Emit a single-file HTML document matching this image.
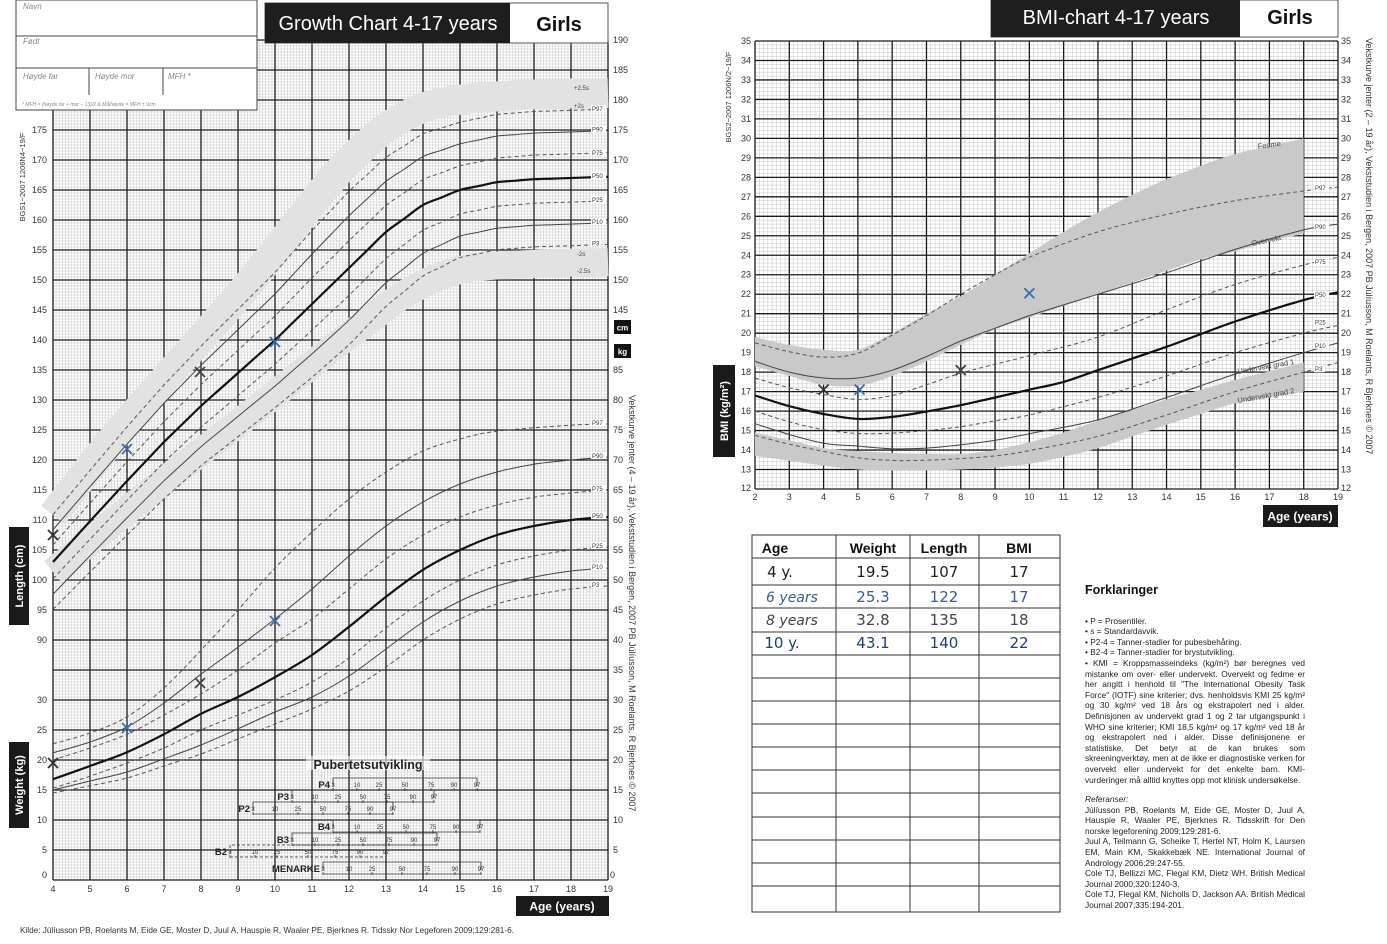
<!DOCTYPE html>
<html><head><meta charset="utf-8">
<style>
html,body{margin:0;padding:0;background:#fff;}
body{width:1387px;height:944px;position:relative;overflow:hidden;font-family:"Liberation Sans",Arial,sans-serif;}
svg{position:absolute;left:0;top:0;}
.hw{font-family:"DejaVu Sans","Liberation Sans",sans-serif;}
#fork{position:absolute;left:1085px;top:585px;width:220px;font-size:8.3px;line-height:10.6px;color:#222;text-align:justify;}
#fork h3{margin:0 0 20px 0;font-size:12.5px;font-weight:bold;color:#111;}
#fork p{margin:0;}
</style></head><body>
<svg id="s" width="1387" height="944" viewBox="0 0 1387 944" xmlns="http://www.w3.org/2000/svg">
<g id="grid"></g>
<g id="curves"></g>
<rect x="16" y="0" width="241" height="110" fill="#fff" stroke="#444" stroke-width="1"/>
<line x1="16" y1="36" x2="257" y2="36" stroke="#444"/>
<line x1="16" y1="68" x2="257" y2="68" stroke="#444"/>
<line x1="89" y1="68" x2="89" y2="95" stroke="#444"/>
<line x1="163" y1="68" x2="163" y2="95" stroke="#444"/>
<g font-size="8" font-style="italic" fill="#888">
<text x="23" y="9">Navn</text><text x="23" y="44">Født</text>
<text x="23" y="79">Høyde far</text><text x="95" y="79">Høyde mor</text><text x="168" y="79">MFH *</text>
<text x="22" y="106" font-size="5">* MFH = (høyde far + mor − 13)/2 &amp; Målhøyde = MFH ± 9cm</text>
</g>
<rect x="265" y="3" width="343" height="40" fill="#fff" stroke="#555"/>
<rect x="265" y="3" width="245" height="40" fill="#1e1e1e"/>
<text x="388" y="30" font-size="20" fill="#fff" text-anchor="middle">Growth Chart 4-17 years</text>
<text x="559" y="31" font-size="20" font-weight="bold" fill="#111" text-anchor="middle">Girls</text>
<rect x="991" y="0" width="347" height="37" fill="#fff" stroke="#555"/>
<rect x="991" y="0" width="249" height="37" fill="#1e1e1e"/>
<text x="1116" y="24" font-size="20" fill="#fff" text-anchor="middle">BMI-chart 4-17 years</text>
<text x="1290" y="24" font-size="20" font-weight="bold" fill="#111" text-anchor="middle">Girls</text>
<rect x="9" y="527" width="20" height="98" fill="#1a1a1a"/>
<text transform="translate(23,576) rotate(-90)" font-size="11" font-weight="bold" fill="#fff" text-anchor="middle">Length (cm)</text>
<rect x="9" y="742" width="20" height="86" fill="#1a1a1a"/>
<text transform="translate(23,785) rotate(-90)" font-size="11" font-weight="bold" fill="#fff" text-anchor="middle">Weight (kg)</text>
<rect x="713" y="365" width="22" height="92" fill="#1a1a1a"/>
<text transform="translate(728,411) rotate(-90)" font-size="11" font-weight="bold" fill="#fff" text-anchor="middle">BMI (kg/m²)</text>
<rect x="614" y="320" width="17" height="14" fill="#111"/><text x="622.5" y="330.5" font-size="8" font-weight="bold" fill="#fff" text-anchor="middle">cm</text>
<rect x="614" y="344" width="17" height="14" fill="#111"/><text x="622.5" y="354.5" font-size="8" font-weight="bold" fill="#fff" text-anchor="middle">kg</text>
<rect x="516" y="896" width="93" height="20" fill="#1a1a1a"/>
<text x="562" y="910.5" font-size="12" font-weight="bold" fill="#fff" text-anchor="middle">Age  (years)</text>
<rect x="1263" y="505" width="75" height="22" fill="#1a1a1a"/>
<text x="1300" y="520.5" font-size="12" font-weight="bold" fill="#fff" text-anchor="middle">Age  (years)</text>
<text transform="translate(25,177) rotate(-90)" font-size="7.5" fill="#333" text-anchor="middle">BGS1−2007 1206N4−19/F</text>
<text transform="translate(731,97) rotate(-90)" font-size="7.5" fill="#333" text-anchor="middle">BGS2−2007 1206N/2−19/F</text>
<text transform="translate(629,395) rotate(90)" font-size="9" fill="#333">Vekstkurve jenter (4 – 19 år), Vekststudien i Bergen, 2007      PB Júlíusson, M Roelants, R Bjerknes © 2007</text>
<text transform="translate(1366,38) rotate(90)" font-size="9" fill="#333">Vekstkurve jenter (2 – 19 år), Vekststudien i Bergen, 2007      PB Júlíusson, M Roelants, R Bjerknes © 2007</text>
<text x="20" y="933" font-size="8.2" fill="#333">Kilde: Júlíusson PB, Roelants M, Eide GE, Moster D, Juul A, Hauspie R, Waaler PE, Bjerknes R. Tidsskr Nor Legeforen 2009;129:281-6.</text>
<g id="labels" font-size="9" fill="#333"></g>
<g id="pub"></g>
<g stroke="#333" stroke-width="1" fill="none" id="tbl"></g>
<g font-size="14" font-weight="bold" fill="#111" text-anchor="middle">
<text x="775" y="553">Age</text><text x="873" y="553">Weight</text><text x="944" y="553">Length</text><text x="1019" y="553">BMI</text>
</g>
<g class="hw" font-size="15" text-anchor="middle">
<text x="780" y="577" fill="#222">4 y.</text><text x="873" y="577" fill="#222">19.5</text><text x="944" y="577" fill="#222">107</text><text x="1019" y="577" fill="#222">17</text>
<text x="792" y="602" fill="#3a5d8f" font-size="14" font-style="italic">6 years</text><text x="873" y="602" fill="#3a5d8f">25.3</text><text x="944" y="602" fill="#3a5d8f">122</text><text x="1019" y="602" fill="#3a5d8f">17</text>
<text x="792" y="625" fill="#444" font-size="14" font-style="italic">8 years</text><text x="873" y="625" fill="#444">32.8</text><text x="944" y="625" fill="#444">135</text><text x="1019" y="625" fill="#444">18</text>
<text x="782" y="648" fill="#1f3f7a">10 y.</text><text x="873" y="648" fill="#1f3f7a">43.1</text><text x="944" y="648" fill="#1f3f7a">140</text><text x="1019" y="648" fill="#1f3f7a">22</text>
</g>
</svg>
<div id="fork">
<h3>Forklaringer</h3>
<p>• P = Prosentiler.</p>
<p>• <i>s</i> = Standardavvik.</p>
<p>• P2-4 = Tanner-stadier for pubesbehåring.</p>
<p>• B2-4 = Tanner-stadier for brystutvikling.</p>
<p>• KMI = Kroppsmasseindeks (kg/m²) bør beregnes ved mistanke om over- eller undervekt. Overvekt og fedme er her angitt i henhold til "The International Obesity Task Force" (IOTF) sine kriterier; dvs. henholdsvis KMI 25 kg/m² og 30 kg/m² ved 18 års og ekstrapolert ned i alder. Definisjonen av undervekt grad 1 og 2 tar utgangspunkt i WHO sine kriterier; KMI 18,5 kg/m² og 17 kg/m² ved 18 år og ekstrapolert ned i alder. Disse definisjonene er statistiske. Det betyr at de kan brukes som skreeningverktøy, men at de ikke er diagnostiske verken for overvekt eller undervekt for det enkelte barn. KMI-vurderinger må alltid knyttes opp mot klinisk undersøkelse.</p>
<p style="margin-top:9px"><i>Referanser:</i></p>
<p>Júlíusson PB, Roelants M, Eide GE, Moster D, Juul A, Hauspie R, Waaler PE, Bjerknes R. Tidsskrift for Den norske legeforening 2009;129:281-6.</p>
<p>Juul A, Teilmann G, Scheike T, Hertel NT, Holm K, Laursen EM, Main KM, Skakkebæk NE. International Journal of Andrology 2006;29:247-55.</p>
<p>Cole TJ, Bellizzi MC, Flegal KM, Dietz WH. British Medical Journal 2000;320:1240-3.</p>
<p>Cole TJ, Flegal KM, Nicholls D, Jackson AA. British Medical Journal 2007;335:194-201.</p>
</div>
<script>
(function(){
function add(g,html){document.getElementById(g).insertAdjacentHTML('beforeend',html);}
var G='';
var lx0=53,lx1=608,ly0=40,ly1=880;
for(var k=0;k<=180;k++){var x=(lx0+k*37/12).toFixed(2);G+='<line x1="'+x+'" y1="'+ly0+'" x2="'+x+'" y2="'+ly1+'" stroke="#c4c4c4" stroke-width="0.5"/>';}
for(var j=0;j<=280;j++){var y=ly0+j*3;G+='<line x1="'+lx0+'" y1="'+y+'" x2="'+lx1+'" y2="'+y+'" stroke="#c4c4c4" stroke-width="0.5"/>';}
for(var a=4;a<=19;a++){var x=lx0+(a-4)*37;G+='<line x1="'+x+'" y1="'+ly0+'" x2="'+x+'" y2="'+ly1+'" stroke="#1a1a1a" stroke-width="1.3"/>';}
for(var y=ly0;y<=ly1;y+=30){G+='<line x1="'+lx0+'" y1="'+y+'" x2="'+lx1+'" y2="'+y+'" stroke="#1a1a1a" stroke-width="1.3"/>';}
var rx0=755,rx1=1338,ry0=41,ry1=489,ux=(rx1-rx0)/17,uy=(ry1-ry0)/23;
for(var k=0;k<=136;k++){var x=(rx0+k*ux/8).toFixed(2);G+='<line x1="'+x+'" y1="'+ry0+'" x2="'+x+'" y2="'+ry1+'" stroke="#c4c4c4" stroke-width="0.5"/>';}
for(var j=0;j<=115;j++){var y=(ry0+j*uy/5).toFixed(2);G+='<line x1="'+rx0+'" y1="'+y+'" x2="'+rx1+'" y2="'+y+'" stroke="#c4c4c4" stroke-width="0.5"/>';}
for(var a=0;a<=17;a++){var x=(rx0+a*ux).toFixed(2);G+='<line x1="'+x+'" y1="'+ry0+'" x2="'+x+'" y2="'+ry1+'" stroke="#1a1a1a" stroke-width="1.3"/>';}
for(var j=0;j<=23;j++){var y=(ry0+j*uy).toFixed(2);G+='<line x1="'+rx0+'" y1="'+y+'" x2="'+rx1+'" y2="'+y+'" stroke="#1a1a1a" stroke-width="1.3"/>';}
add('grid',G);
function cr(pts){var d='M'+pts[0][0].toFixed(1)+','+pts[0][1].toFixed(1);
 for(var i=0;i<pts.length-1;i++){var p0=pts[i-1]||pts[i],p1=pts[i],p2=pts[i+1],p3=pts[i+2]||p2;
 d+=' C'+(p1[0]+(p2[0]-p0[0])/6).toFixed(1)+','+(p1[1]+(p2[1]-p0[1])/6).toFixed(1)+' '+(p2[0]-(p3[0]-p1[0])/6).toFixed(1)+','+(p2[1]-(p3[1]-p1[1])/6).toFixed(1)+' '+p2[0].toFixed(1)+','+p2[1].toFixed(1);}
 return d;}
function interp(tab,a){for(var i=0;i<tab.length-1;i++){if(a<=tab[i+1][0]){var t=(a-tab[i][0])/(tab[i+1][0]-tab[i][0]);return tab[i][1]+t*(tab[i+1][1]-tab[i][1]);}}return tab[tab.length-1][1];}
var LX=function(a){return 53+(a-4)*37;},HY=function(h){return 40+(190-h)*6;},WY=function(w){return 880-6*w;};
var C='';
function st(kind){if(kind==='h')return 'stroke="#111" stroke-width="2.2"';if(kind==='s')return 'stroke="#444" stroke-width="1"';return 'stroke="#555" stroke-width="1" stroke-dasharray="4,3"';}
var up=[[53,515],[122,428],[245,288],[318,196],[355,155],[395,122],[440,103],[520,95],[608,93]];
var lo=[[53,572],[150,492],[245,418],[330,350],[367,322],[408,292],[460,270],[530,264],[608,262]];
C+='<path d="'+cr(up)+'" fill="none" stroke="#e2e2e2" stroke-width="30"/>';
C+='<path d="'+cr(lo)+'" fill="none" stroke="#e2e2e2" stroke-width="28"/>';
var P50=[[4,103],[5,109.8],[6,116.5],[7,123],[8,129],[9,134.5],[10,140],[11,146],[12,152],[13,158],[14,162.5],[15,165],[16,166.3],[17,166.8],[18,167],[19,167.2]];
var SD=[[4,4.2],[6,4.8],[8,5.3],[10,6],[11,6.5],[12,6.8],[13,6.6],[14,6.3],[15,6],[19,6]];
var Z=[[1.88,'d'],[1.28,'s'],[0.67,'d'],[0,'h'],[-0.67,'d'],[-1.28,'s'],[-1.88,'d']];
Z.forEach(function(z){var pts=[];for(var a=4;a<=19.001;a+=0.5){pts.push([LX(a),HY(interp(P50,a)+z[0]*interp(SD,a))]);}
 C+='<path d="'+cr(pts)+'" fill="none" '+st(z[1])+'/>';});
var W={
p97:[[4,22.7],[5,24.5],[6,27.2],[7,32],[8,38.3],[9,45],[10,52],[11,58],[12,63.5],[13,68],[14,71.5],[15,73.5],[16,74.8],[18,75.8],[19,76]],
p90:[[4,21.2],[5,23],[6,25.5],[7,29.5],[8,34.3],[9,38.8],[10,43.5],[11,48.5],[12,54],[13,59],[14,63],[15,66],[16,68],[17,69.3],[18,70],[19,70.5]],
p75:[[4,20],[5,22],[6,24.3],[7,27.5],[8,31],[9,35],[10,39.5],[11,43.5],[12,48.5],[13,53.5],[14,57.5],[15,60.5],[16,62.5],[17,63.8],[18,64.5],[19,65]],
p50:[[4,16.8],[5,19],[6,21.3],[7,24.3],[8,27.7],[9,30.5],[10,33.8],[11,37.5],[12,42.2],[13,47.2],[14,51.7],[15,55],[16,57.5],[17,59],[18,60],[19,60.5]],
p25:[[4,15.3],[5,17.3],[6,19.5],[7,22],[8,25],[9,27.5],[10,30],[11,33],[12,37],[13,42],[14,46.5],[15,50],[16,52.5],[17,54],[18,55],[19,55.5]],
p10:[[4,15],[5,16.5],[6,18],[7,20.2],[8,22.5],[9,25.2],[10,28],[11,30.5],[12,34],[13,38.5],[14,43],[15,46.5],[16,49],[17,50.5],[18,51.5],[19,52]],
p3:[[4,14.5],[5,15.7],[6,17],[7,19],[8,21],[9,23.5],[10,26],[11,28.5],[12,31.5],[13,35.5],[14,40],[15,43.5],[16,46],[17,47.5],[18,48.5],[19,49]]};
var ks={p97:'d',p90:'s',p75:'d',p50:'h',p25:'d',p10:'s',p3:'d'};
for(var k in W){var pts=W[k].map(function(p){return [LX(p[0]),WY(p[1])];});C+='<path d="'+cr(pts)+'" fill="none" '+st(ks[k])+'/>';}
var BX=function(a){return 755+(a-2)*ux;},BY=function(b){return 41+(35-b)*uy;};
var bandTop=[[2,19.8],[3,19.4],[4,19.15],[5,19.15],[6,20],[7,21],[8,21.9],[9,23],[10,24.1],[11,25.2],[12,26.2],[13,27.1],[14,27.9],[15,28.6],[16,29.2],[17,29.6],[18,30]];
var bandBot=[[2,18.3],[3,17.8],[4,17.35],[5,17.3],[6,17.8],[7,18.55],[8,19.4],[9,20.2],[10,20.8],[11,21.4],[12,22],[13,22.6],[14,23.2],[15,23.8],[16,24.2],[17,24.7],[18,25.1]];
var lbTop=[[2,14.9],[3,14.5],[4,14.1],[5,13.95],[6,13.85],[7,13.8],[8,13.8],[9,14],[10,14.4],[11,14.9],[12,15.5],[13,16.05],[14,16.6],[15,17.1],[16,17.6],[17,18.05],[18,18.5]];
var lbBot=[[2,13.7],[3,13.45],[4,13.2],[5,13.0],[6,12.95],[7,12.95],[8,13.0],[9,13.1],[10,13.3],[11,13.65],[12,14.1],[13,14.7],[14,15.3],[15,15.85],[16,16.4],[17,16.7],[18,17]];
function band(t,b){var pt=t.map(function(p){return [BX(p[0]),BY(p[1])];});var pb=b.slice().reverse().map(function(p){return [BX(p[0]),BY(p[1])];});
 var d=cr(pt);var d2=cr(pb).replace(/^M/,' L');return '<path d="'+d+d2+' Z" fill="#c9c9c9" stroke="none"/>';}
C+=band(bandTop,bandBot)+band(lbTop,lbBot);
var B={
p97:[[2,19.5],[3,19.05],[4,18.77],[5,18.97],[6,19.9],[7,20.9],[8,22],[9,23],[10,23.9],[12,25.2],[14,26.1],[16,26.8],[18,27.3],[19,27.5]],
p90:[[2,18.55],[3,18.0],[4,17.7],[5,17.7],[6,18.1],[7,18.8],[8,19.6],[9,20.25],[10,20.9],[11,21.45],[12,22],[14,23.1],[16,24.3],[18,25.3],[19,25.6]],
p75:[[2,17.7],[3,17.2],[4,16.85],[5,16.6],[6,16.8],[7,17.35],[8,17.95],[9,18.4],[10,18.85],[12,19.8],[14,21.2],[16,22.5],[18,23.5],[19,23.9]],
p50:[[2,16.8],[3,16.25],[4,15.85],[5,15.6],[6,15.7],[7,15.98],[8,16.3],[9,16.7],[10,17.1],[11,17.5],[12,18.1],[14,19.3],[16,20.6],[18,21.7],[19,22.1]],
p25:[[2,16],[3,15.45],[4,15.05],[5,14.85],[6,14.87],[7,15],[8,15.2],[9,15.5],[10,15.8],[12,16.7],[14,17.8],[16,19],[18,20],[19,20.4]],
p10:[[2,15.35],[3,14.8],[4,14.35],[5,14.2],[6,14.07],[7,14.1],[8,14.27],[9,14.5],[10,14.84],[12,15.55],[14,16.7],[16,17.9],[18,19],[19,19.5]],
p3:[[2,14.75],[3,14.3],[4,13.93],[5,13.6],[6,13.47],[7,13.48],[8,13.56],[9,13.7],[10,13.97],[12,14.7],[14,15.8],[16,17],[18,18],[19,18.5]]};
for(var k in B){var pts=B[k].map(function(p){return [BX(p[0]),BY(p[1])];});C+='<path d="'+cr(pts)+'" fill="none" '+st(ks[k])+'/>';}
function X(x,y,c){return '<path d="M'+(x-5)+','+(y-5)+' L'+(x+5)+','+(y+5)+' M'+(x+5)+','+(y-5)+' L'+(x-5)+','+(y+5)+'" stroke="'+c+'" stroke-width="1.8" fill="none"/>';}
C+=X(53,535,'#333')+X(127,449,'#3a6db0')+X(200,372,'#444')+X(275,342,'#3a6db0');
C+=X(53,763,'#333')+X(127,728,'#3a6db0')+X(200,683,'#444')+X(275,621,'#3a6db0');
C+=X(BX(4),BY(17.1),'#333')+X(BX(5.05),BY(17.1),'#3a6db0')+X(BX(8),BY(18.1),'#444')+X(BX(10),BY(22.05),'#3a6db0');
var lab='';
function pl(x,y,t){lab+='<rect x="'+(x-1)+'" y="'+(y-5)+'" width="'+(t.length*4.4+2)+'" height="7" fill="#fff"/><text x="'+x+'" y="'+(y+1)+'" font-size="6" fill="#333">'+t+'</text>';}
[['P97',HY(178.3)],['P90',HY(174.9)],['P75',HY(171)],['P50',HY(167.2)],['P25',HY(163.2)],['P10',HY(159.5)],['P3',HY(155.9)]].forEach(function(p){pl(592,p[1],p[0]);});
[['P97',WY(76)],['P90',WY(70.5)],['P75',WY(65)],['P50',WY(60.5)],['P25',WY(55.5)],['P10',WY(52)],['P3',WY(49)]].forEach(function(p){pl(592,p[1],p[0]);});
[['P97',BY(27.4)],['P90',BY(25.4)],['P75',BY(23.6)],['P50',BY(21.9)],['P25',BY(20.5)],['P10',BY(19.3)],['P3',BY(18.1)]].forEach(function(p){pl(1315,p[1],p[0]);});
lab+='<text x="574" y="90" font-size="6" fill="#444">+2.5s</text><text x="574" y="108" font-size="6" fill="#444">+2s</text><text x="577" y="256" font-size="6" fill="#444">-2s</text><text x="577" y="273" font-size="6" fill="#444">-2.5s</text>';
lab+='<text transform="translate(1258,149) rotate(-8)" font-size="7.5" fill="#444">Fedme</text>';
lab+='<text transform="translate(1252,246) rotate(-12)" font-size="7.5" fill="#444">Overvekt</text>';
lab+='<text transform="translate(1238,374) rotate(-10)" font-size="7.5" fill="#444">Undervekt grad 1</text>';
lab+='<text transform="translate(1238,403) rotate(-10)" font-size="7.5" fill="#444">Undervekt grad 2</text>';
C+=lab;
add('curves',C);
var L='';
for(var h=90;h<=175;h+=5){L+='<text x="47" y="'+(HY(h)+3)+'" text-anchor="end">'+h+'</text>';}
for(var w=5;w<=30;w+=5){L+='<text x="47" y="'+(WY(w)+3)+'" text-anchor="end">'+w+'</text>';}
L+='<text x="47" y="878" text-anchor="end">0</text>';
for(var h=145;h<=190;h+=5){L+='<text x="613" y="'+(HY(h)+3)+'">'+h+'</text>';}
for(var w=5;w<=85;w+=5){L+='<text x="613" y="'+(WY(w)+3)+'">'+w+'</text>';}
L+='<text x="610" y="878">0</text>';
for(var a=4;a<=19;a++){L+='<text x="'+LX(a)+'" y="892" text-anchor="middle">'+a+'</text>';}
for(var b=13;b<=35;b++){L+='<text x="751" y="'+(BY(b)+3).toFixed(1)+'" text-anchor="end">'+b+'</text>';L+='<text x="1341" y="'+(BY(b)+3).toFixed(1)+'">'+b+'</text>';}
L+='<text x="751" y="491" text-anchor="end">12</text><text x="1341" y="491">12</text>';
for(var a=2;a<=19;a++){L+='<text x="'+BX(a).toFixed(1)+'" y="500" text-anchor="middle">'+a+'</text>';}
add('labels',L);
var P='<rect x="306" y="756" width="124" height="14" fill="#fff" opacity="0.6"/><text x="368" y="769" font-size="12.5" font-weight="bold" fill="#222" text-anchor="middle">Pubertetsutvikling</text>';
var rows=[['P4',784,[333,357,379,405,431,454,477]],['P3',796,[292,315,338,363,387,413,434]],['P2',808,[253,275,298,323,348,370,393]],
['B4',826,[333,357,380,406,433,456,480]],['B3',839,[292,315,338,363,389,414,437]],['B2',851,[230,255,277,308,335,360,386]],['MENARKE',868,[323,349,372,402,427,455,481]]];
var nums=['3','10','25','50','75','90','97'];
rows.forEach(function(r){var y=r[1],xs=r[2],x1=xs[0],x2=xs[6];
 P+='<text x="'+(x1-3)+'" y="'+(y+4)+'" font-size="9.5" font-weight="bold" fill="#222" text-anchor="end">'+r[0]+'</text>';
 P+='<path d="M'+x1+','+(y+2)+' L'+x1+','+(y-6)+' L'+x2+','+(y-6)+' L'+x2+','+(y+2)+' M'+x1+','+(y+6)+' L'+x2+','+(y+6)+'" stroke="#333" stroke-width="0.8" fill="none"'+(r[0]==='B2'?' stroke-dasharray="3,2"':'')+'/>';
 xs.forEach(function(x,i){P+='<line x1="'+x+'" y1="'+(y+4)+'" x2="'+x+'" y2="'+(y+7)+'" stroke="#333" stroke-width="0.8"/><text x="'+x+'" y="'+(y+3)+'" font-size="6" fill="#333" text-anchor="middle">'+nums[i]+'</text>';});
});
add('pub',P);
var T='<rect x="752" y="535" width="308" height="377"/>';
[836,910,979].forEach(function(x){T+='<line x1="'+x+'" y1="535" x2="'+x+'" y2="912"/>';});
[558,585,608,632,655,678,701,724,747,770,793,817,840,863,886].forEach(function(y){T+='<line x1="752" y1="'+y+'" x2="1060" y2="'+y+'"/>';});
add('tbl',T);
})();
</script>
</body></html>
